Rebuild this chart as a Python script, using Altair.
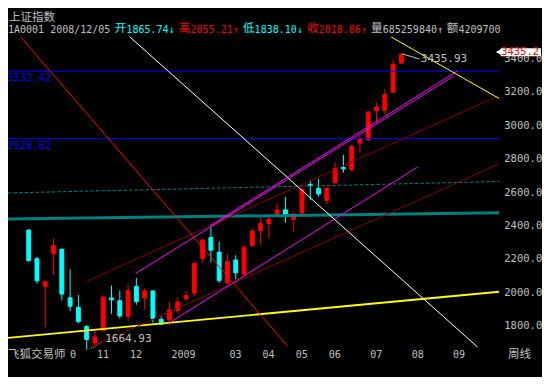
import altair as alt
import pandas as pd

# ------------------------------------------------------------------ data
week_idx = list(range(46))
open_ = [2380.7, 2209.5, 2044.0, 2239.7, 2266.6, 1975.5, 1918.4, 1804.0, 1707.0, 1780.5,
         1975.0, 1958.0, 1865.74, 2044.0, 1975.5, 2017.0, 1846.0, 1846.0, 1899.5, 1970.0,
         2004.0, 2211.0, 2337.0, 2249.0, 2065.0, 2202.0, 2118.0, 2287.7, 2379.0, 2420.6,
         2473.7, 2502.0, 2445.0, 2483.4, 2654.7, 2630.0, 2559.0, 2664.0, 2755.7, 2744.0,
         2902.0, 2921.0, 3096.0, 3098.0, 3206.6, 3381.0]
high = [2388.0, 2221.0, 2075.0, 2329.0, 2270.0, 2146.7, 1992.6, 1814.0, 1781.0, 1990.0,
        2049.7, 2019.4, 2055.21, 2095.0, 2032.5, 2020.0, 1865.0, 1951.0, 1979.5, 2017.0,
        2185.0, 2325.0, 2398.0, 2312.0, 2236.0, 2230.6, 2289.0, 2392.0, 2455.0, 2460.6,
        2546.0, 2578.8, 2483.4, 2630.0, 2673.5, 2689.0, 2636.0, 2787.7, 2831.6, 2892.7,
        2945.8, 3092.0, 3145.5, 3225.5, 3402.0, 3435.93]
low = [2195.0, 2061.0, 1798.5, 2112.4, 1960.0, 1897.0, 1823.0, 1664.93, 1679.0, 1775.0,
       1880.0, 1851.6, 1838.10, 1934.0, 1903.0, 1827.0, 1811.0, 1811.0, 1884.0, 1956.6,
       1983.0, 2188.0, 2188.0, 2065.0, 2055.0, 2084.0, 2108.0, 2283.7, 2293.0, 2331.0,
       2464.6, 2426.0, 2369.0, 2480.0, 2559.0, 2582.0, 2536.5, 2660.0, 2725.0, 2730.6,
       2844.7, 2917.0, 3021.7, 3077.0, 3201.0, 3375.0]
close = [2198.0, 2078.0, 2072.5, 2287.7, 1998.0, 1925.8, 1832.8, 1726.0, 1741.5, 1981.0,
         1964.0, 1867.0, 2018.86, 1953.0, 2017.0, 1851.6, 1817.4, 1903.0, 1951.0, 1988.6,
         2182.6, 2322.0, 2261.0, 2080.0, 2192.0, 2125.6, 2278.0, 2375.0, 2420.6, 2445.0,
         2502.0, 2473.7, 2477.7, 2626.6, 2649.0, 2597.6, 2632.0, 2750.0, 2747.7, 2883.0,
         2927.0, 3088.5, 3117.0, 3191.0, 3374.0, 3435.2]

# trend / average lines: (week index pair, price pair)
red_line_i, red_line_p = [-1.0, 31.31], [3539.4, 1684.1]
white_line_i, white_line_p = [12.17, 54.19], [3539.4, 1681.5]
yellow_top_i, yellow_top_p = [43.69, 56.82], [3539.4, 3168.4]
yellow_bot_i, yellow_bot_p = [-2.5, 56.82], [1736.3, 2012.0]
mag_a_i, mag_a_p = [12.94, 51.2], [2122.0, 3299.7]
mag_b_i, mag_b_p = [21.92, 51.78], [2407.5, 3333.9]
mag_c_i, mag_c_p = [16.85, 46.97], [1821.3, 2759.1]
maroon_up_i, maroon_up_p = [6.88, 56.82], [2070.8, 3187.2]
maroon_lo_i, maroon_lo_p = [7.27, 56.82], [1674.7, 2778.5]
teal_thick_i, teal_thick_p = [-2.5, 56.82], [2447.7, 2484.6]
teal_dash_i, teal_dash_p = [-2.5, 56.82], [2603.3, 2671.8]
level_prices = [3332.42, 2928.82]
level_labels = ["3332.42", "2928.82"]

hi_note_i, hi_note_p = [45.1, 47.2], [3435.93, 3405.0]
hi_text_i, hi_text_p, hi_text = [47.35], [3405.0], ["3435.93"]
lo_note_i, lo_note_p = [7.5, 8.87], [1667.0, 1715.8]
lo_text_i, lo_text_p, lo_text = [9.23], [1727.2], ["1664.93"]
last_price = [3435.2]

y_ticks = [1800, 2000, 2200, 2400, 2600, 2800, 3000, 3200, 3400]
x_tick_idx = [4.75, 8, 12, 17, 24, 28, 32, 36, 41, 46, 51]
x_tick_lab = ["0", "11", "12", "2009", "03", "04", "05", "06", "07", "08", "09"]

title_text = "上证指数"
header_cjk = ["", "开", "高", "低", "收", "量", "额"]
header_num = ["1A0001 2008/12/05", "1865.74↓", "2055.21↑", "1838.10↓", "2018.86↑",
              "685259840↑", "4209700"]
footer_left = "飞狐交易师"
footer_right = "周线"

# ------------------------------------------------------------------ layout
W, H = 534, 369
SX, SY = W / 550, H / 387
RL, RT, RR, RB = 0, 30, 506, 358          # plot box in reference pixels
PW = (RR - RL) * SX
PH = (RB - RT) * SY


def rx(x):
    return (x - RL) * SX


def ry(y):
    return (y - RT) * SY


GREY = "#c0c0c0"
RED = "#ff0000"
CYAN = "#00ffff"
MONO = "DejaVu Sans Mono"
CJK = "Noto Sans CJK SC"

xs = alt.Scale(domain=[-2.5, 56.82], nice=False, zero=False, padding=0)
ys = alt.Scale(domain=[1667.2, 3539.4], nice=False, zero=False, padding=0)

lab_expr = " : ".join(f"datum.value == {v} ? '{t}'" for v, t in zip(x_tick_idx, x_tick_lab)) + " : ''"
x_axis = alt.Axis(orient="bottom", values=x_tick_idx, labelExpr=lab_expr, ticks=False, domain=False,
                  grid=False, labelColor=GREY, labelFont=MONO, labelFontSize=10, labelAlign="left",
                  labelBaseline="middle", labelPadding=5, labelOffset=1.5, labelOverlap=False,
                  labelBound=False, labelFlush=False, title=None)
y_axis = alt.Axis(orient="right", values=y_ticks, format=".1f", ticks=False, domain=False, grid=False,
                  labelColor=GREY, labelFont=MONO, labelFontSize=10.5, labelAlign="left",
                  labelBaseline="middle", labelPadding=4.5, labelOffset=-1.5, labelOverlap=False,
                  labelBound=False, title=None)


def X(f):
    return alt.X(f, type="quantitative", scale=xs, axis=x_axis, title=None)


def Y(f):
    return alt.Y(f, type="quantitative", scale=ys, axis=y_axis, title=None)


layers = []

candles = pd.DataFrame({"i": week_idx, "o": open_, "h": high, "l": low, "c": close})
ccol = alt.condition("datum.c >= datum.o", alt.value(RED), alt.value(CYAN))
layers.append(alt.Chart(candles).mark_rule(strokeWidth=1).encode(
    x=X("i"), y=Y("l"), y2="h", color=ccol))
layers.append(alt.Chart(candles).mark_bar(size=3.9, strokeWidth=1).encode(
    x=X("i"), y=Y("o"), y2="c", color=ccol, stroke=ccol))


def seg(i_list, p_list, color, width=1.0, dash=None):
    df = pd.DataFrame({"i": i_list, "p": p_list})
    kw = dict(color=color, strokeWidth=width, clip=True)
    if dash:
        kw["strokeDash"] = dash
    return alt.Chart(df).mark_line(**kw).encode(x=X("i"), y=Y("p"))


layers.append(seg(teal_thick_i, teal_thick_p, "#008080", 3))
layers.append(seg(teal_dash_i, teal_dash_p, "#008080", 1, [3.5, 2]))
layers.append(alt.Chart(pd.DataFrame({"p": level_prices, "t": level_labels}))
              .mark_rule(color="#0000ff", strokeWidth=1).encode(y=Y("p")))
layers.append(alt.Chart(pd.DataFrame({"p": level_prices, "t": level_labels}))
              .mark_text(color="#0000ff", font=MONO, fontSize=10.5, align="left", baseline="top", dy=2)
              .encode(x=alt.value(-1), y=Y("p"), text="t:N"))
layers.append(seg(yellow_bot_i, yellow_bot_p, "#ffff00", 1.8))
layers.append(seg(maroon_up_i, maroon_up_p, "#8a0000", 1))
layers.append(seg(maroon_lo_i, maroon_lo_p, "#8a0000", 1))
layers.append(seg(mag_a_i, mag_a_p, "#ff00ff", 1))
layers.append(seg(mag_b_i, mag_b_p, "#ff00ff", 1))
layers.append(seg(mag_c_i, mag_c_p, "#ff00ff", 1))
layers.append(seg(red_line_i, red_line_p, "#ff0000", 1))
layers.append(seg(white_line_i, white_line_p, "#ffffff", 1))
layers.append(seg(yellow_top_i, yellow_top_p, "#ffff00", 1))

# high / low annotations
layers.append(seg(hi_note_i, hi_note_p, GREY, 1))
layers.append(alt.Chart(pd.DataFrame({"i": hi_text_i, "p": hi_text_p, "t": hi_text}))
              .mark_text(color=GREY, font=MONO, fontSize=11, align="left", baseline="middle")
              .encode(x=X("i"), y=Y("p"), text="t:N"))
layers.append(seg(lo_note_i, lo_note_p, GREY, 1, [1, 2]))
layers.append(alt.Chart(pd.DataFrame({"i": lo_text_i, "p": lo_text_p, "t": lo_text}))
              .mark_text(color=GREY, font=MONO, fontSize=11, align="left", baseline="middle")
              .encode(x=X("i"), y=Y("p"), text="t:N"))

# current price marker on the right axis
lp = alt.Chart(pd.DataFrame({"p": last_price})).transform_calculate(
    top="datum.p + 34", bot="datum.p - 14", lab="format(datum.p, '.1f')")
layers.append(lp.mark_rect(color="white").encode(
    x=alt.value(rx(507.5)), x2=alt.value(rx(549)), y=Y("top:Q"), y2="bot:Q"))
layers.append(lp.mark_point(shape="triangle-left", filled=True, color="white", size=45, opacity=1,
                            yOffset=-2).encode(x=alt.value(rx(505.5)), y=Y("p")))
layers.append(lp.mark_text(color=RED, font=MONO, fontSize=10.5, align="right", baseline="middle",
                           dy=-2).encode(x=alt.value(rx(547)), y=Y("p"), text="lab:N"))

# header texts
one = pd.DataFrame({"t": [title_text]})
layers.append(alt.Chart(one).mark_text(color=GREY, font=CJK, fontSize=11.5, align="left",
                                       baseline="middle").encode(
    x=alt.value(rx(1)), y=alt.value(ry(10)), text="t:N"))
seg_x = [0, 110, 176, 242, 308, 374, 452]
seg_col = [GREY, CYAN, RED, CYAN, RED, GREY, GREY]
for cj, num, sx_, col in zip(header_cjk, header_num, seg_x, seg_col):
    if cj:
        layers.append(alt.Chart(pd.DataFrame({"t": [cj]})).mark_text(
            color=col, font=CJK, fontSize=11.5, align="left", baseline="middle").encode(
            x=alt.value(rx(sx_)), y=alt.value(ry(22.5)), text="t:N"))
        nx = sx_ + 12
    else:
        nx = sx_
    layers.append(alt.Chart(pd.DataFrame({"t": [num]})).mark_text(
        color=col, font=MONO, fontSize=10, align="left", baseline="middle").encode(
        x=alt.value(rx(nx)), y=alt.value(ry(23)), text="t:N"))

# footer texts
layers.append(alt.Chart(pd.DataFrame({"t": [footer_left]})).mark_text(
    color=GREY, font=CJK, fontSize=11.5, align="left", baseline="middle").encode(
    x=alt.value(rx(0)), y=alt.value(ry(363.5)), text="t:N"))
layers.append(alt.Chart(pd.DataFrame({"t": [footer_right]})).mark_text(
    color=GREY, font=CJK, fontSize=11.5, align="left", baseline="middle").encode(
    x=alt.value(rx(515)), y=alt.value(ry(363.5)), text="t:N"))

chart = alt.layer(*layers).properties(
    width=PW, height=PH, background="black",
    padding={"left": 0, "top": RT * SY, "right": W - PW, "bottom": H - PH - RT * SY},
    autosize=alt.AutoSizeParams(type="none"),
).configure_view(strokeWidth=0)

chart.save("out.html", embed_options={"renderer": "svg", "actions": False})
